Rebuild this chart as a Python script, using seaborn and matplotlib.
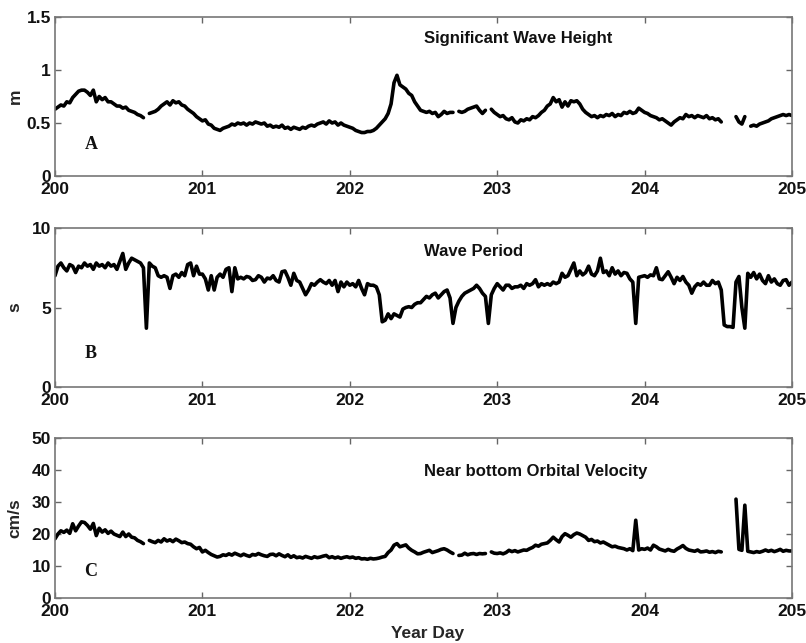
import numpy as np
import pandas as pd
import matplotlib
matplotlib.use("Agg")
import matplotlib.pyplot as plt
import seaborn as sns

nan = np.nan

# sampling grid (year day)
year_day = np.linspace(200, 205, 251)

# Significant wave height (m)
hs_m = [
    .63, .65, .67, .66, .70, .69, .74, .77, .80, .81, .81, .79, .76, .81, .70, .75, .72, .74, .70, .70,
    .68, .66, .66, .64, .65, .62, .61, .60, .58, .57, .55, nan, .59, .60, .61, .63, .66, .68, .70, .67,
    .71, .69, .70, .67, .66, .63, .61, .59, .56, .54,
    .52, .53, .49, .48, .45, .44, .43, .45, .46, .47, .49, .48, .50, .49, .50, .48, .50, .49, .51, .50,
    .49, .50, .47, .48, .46, .47, .46, .48, .45, .46, .44, .46, .45, .44, .46, .45, .47, .48, .47, .49,
    .50, .51, .49, .52, .50, .51, .48, .50, .48, .47,
    .46, .45, .43, .42, .41, .41, .42, .42, .43, .45, .48, .51, .54, .59, .68, .88, .95, .86, .84, .82,
    .78, .76, .70, .66, .62, .61, .60, .61, .59, .60, .56, .58, .61, .59, .60, .60, nan, .61, .60, .61,
    .63, .64, .65, .66, .62, .59, .62, nan, .63, .60,
    .58, .56, .57, .54, .53, .55, .51, .50, .53, .52, .54, .53, .56, .55, .57, .60, .62, .66, .68, .74,
    .70, .72, .65, .70, .66, .71, .70, .71, .68, .63, .60, .58, .56, .57, .55, .57, .56, .58, .57, .59,
    .56, .58, .57, .60, .59, .61, .59, .60, .64, .62,
    .60, .59, .57, .56, .55, .53, .54, .52, .50, .48, .51, .53, .55, .54, .58, .56, .57, .55, .57, .56,
    .55, .57, .54, .55, .53, .54, .51, nan, nan, nan, nan, .56, .51, .49, .56, nan, .47, .48, .47, .49,
    .50, .51, .52, .54, .55, .56, .57, .58, .57, .58, .57,
]

# Wave period (s)
period_s = [
    7.0, 7.6, 7.8, 7.5, 7.3, 7.7, 7.6, 7.2, 7.6, 7.5, 7.8, 7.6, 7.7, 7.4, 7.8, 7.6, 7.7, 7.5, 7.8, 7.6,
    7.7, 7.4, 7.9, 8.4, 7.4, 7.8, 8.1, 8.0, 7.9, 7.8, 7.5, 3.7, 7.8, 7.6, 7.5, 7.0, 6.9, 7.0, 6.9, 6.2,
    7.0, 7.1, 6.9, 7.2, 7.0, 7.7, 7.8, 7.0, 7.6, 7.1,
    7.1, 6.8, 6.1, 7.0, 6.1, 6.9, 7.1, 6.9, 7.4, 7.5, 6.0, 7.5, 6.8, 6.9, 6.8, 6.95, 6.9, 6.7, 6.75, 7.0,
    6.9, 6.6, 6.85, 6.8, 7.0, 6.7, 6.6, 7.25, 7.3, 6.9, 6.4, 7.15, 6.7, 6.6, 6.2, 5.8, 6.1, 6.5, 6.4, 6.6,
    6.75, 6.6, 6.5, 6.7, 6.4, 6.7, 6.0, 6.6, 6.3, 6.6,
    6.4, 6.5, 6.3, 6.7, 6.2, 5.8, 6.5, 6.4, 6.4, 6.3, 5.8, 4.1, 4.2, 4.6, 4.3, 4.6, 4.5, 4.4, 4.9, 5.0,
    5.05, 5.0, 5.2, 5.3, 5.3, 5.5, 5.7, 5.6, 5.8, 5.9, 5.6, 5.8, 6.0, 6.1, 5.6, 4.0, 5.0, 5.4, 5.7, 5.9,
    6.0, 6.1, 6.2, 6.4, 6.2, 5.9, 5.7, 4.0, 5.8, 6.2,
    6.5, 6.3, 6.1, 6.4, 6.4, 6.2, 6.3, 6.3, 6.4, 6.2, 6.5, 6.4, 6.5, 6.75, 6.3, 6.5, 6.4, 6.5, 6.4, 6.6,
    6.5, 6.6, 7.15, 6.9, 7.0, 7.4, 7.8, 7.0, 7.3, 7.05, 7.2, 7.6, 7.1, 7.0, 7.3, 8.1, 7.2, 7.3, 7.0, 7.5,
    7.1, 7.3, 7.0, 7.2, 7.15, 6.8, 6.6, 4.0, 6.9, 6.95,
    7.0, 6.9, 7.05, 7.0, 7.5, 6.8, 6.75, 7.0, 7.25, 6.9, 6.5, 6.9, 6.7, 6.95, 6.6, 6.4, 5.9, 6.3, 6.5, 6.4,
    6.6, 6.4, 6.4, 6.7, 6.5, 6.6, 6.1, 3.9, 3.8, 3.8, 3.75, 6.6, 6.95, 5.0, 3.7, 7.15, 6.9, 7.2, 6.8, 7.1,
    6.7, 6.5, 7.0, 6.6, 6.8, 6.5, 6.4, 6.7, 6.75, 6.4, 6.6,
]

# Near bottom orbital velocity (cm/s)
velocity_cms = [
    18.5, 20.0, 21.0, 20.5, 21.2, 20.2, 23.2, 21.0, 22.5, 23.8, 23.6, 22.7, 21.5, 23.3, 19.5, 21.8, 20.6, 21.3, 20.2, 20.9,
    20.0, 19.6, 19.2, 20.6, 19.2, 20.0, 19.0, 18.8, 18.0, 17.6, 17.0, nan, 18.0, 17.6, 17.3, 18.0, 17.5, 18.5, 17.8, 18.2,
    17.6, 18.4, 17.9, 17.3, 17.5, 17.0, 16.8, 16.0, 15.4, 15.8,
    14.4, 14.9, 14.2, 13.6, 13.2, 12.8, 13.0, 13.5, 13.3, 13.8, 13.4, 14.0, 13.6, 13.2, 13.7, 13.3, 13.0, 13.6, 13.4, 13.9,
    13.5, 13.2, 13.0, 13.6, 13.7, 13.2, 13.8, 13.3, 12.9, 13.5, 12.7, 13.2, 12.6, 12.8, 12.5, 13.0, 12.7, 12.4, 12.9, 12.6,
    12.8, 13.1, 13.3, 12.6, 12.9, 12.5, 12.8, 12.4, 12.7, 12.9,
    12.6, 12.8, 12.4, 12.6, 12.2, 12.3, 12.1, 12.4, 12.2, 12.3, 12.5, 12.8, 13.0, 14.2, 15.0, 16.5, 17.0, 16.0, 16.3, 16.6,
    15.6, 14.9, 14.4, 13.8, 13.9, 14.3, 14.6, 14.9, 14.2, 14.5, 14.8, 15.2, 15.4, 15.0, 14.4, 13.9, nan, 13.3, 13.4, 14.0,
    13.5, 13.8, 13.9, 13.6, 13.9, 13.8, 13.9, nan, 14.4, 14.0,
    13.9, 14.1, 13.8, 14.2, 14.9, 14.5, 14.8, 14.4, 14.7, 15.0, 14.9, 15.4, 15.8, 16.5, 16.2, 16.8, 17.0, 17.2, 18.0, 19.0,
    18.2, 17.5, 19.2, 20.1, 19.6, 19.0, 19.8, 20.3, 20.0, 19.5, 19.0, 18.0, 18.3, 17.6, 17.8, 17.2, 17.5, 17.0, 16.5, 16.0,
    16.2, 15.8, 15.6, 15.4, 15.0, 15.4, 14.8, 24.3, 15.0, 15.4,
    15.2, 15.6, 15.0, 16.5, 16.0, 15.3, 15.0, 14.7, 15.2, 14.8, 14.6, 15.3, 15.8, 16.4, 15.5, 15.0, 14.8, 14.6, 15.0, 14.4,
    14.5, 14.7, 14.3, 14.5, 14.2, 14.6, 14.4, nan, nan, nan, nan, 30.9, 15.2, 14.9, 29.0, 14.6, 14.4, 14.2, 14.5, 14.3,
    14.6, 15.0, 14.6, 14.9, 14.5, 14.8, 15.2, 14.6, 14.9, 14.7, 14.7,
]

x_ticks = [200, 201, 202, 203, 204, 205]
hs_ticks = [0, 0.5, 1, 1.5]
hs_ticklabels = ["0", "0.5", "1", "1.5"]
period_ticks = [0, 5, 10]
velocity_ticks = [0, 10, 20, 30, 40, 50]

sns.set_style("ticks")
plt.rcParams["font.family"] = ["Liberation Sans", "DejaVu Sans"]
plt.rcParams.update({
    "xtick.direction": "in", "ytick.direction": "in",
    "xtick.top": True, "ytick.right": True,
    "xtick.major.size": 4, "ytick.major.size": 4,
    "xtick.major.width": 1.0, "ytick.major.width": 1.0,
    "xtick.color": "#666666", "ytick.color": "#666666",
    "xtick.labelcolor": "#111111", "ytick.labelcolor": "#111111",
    "axes.edgecolor": "#777777", "axes.linewidth": 1.2,
    "xtick.major.pad": 4.5, "ytick.major.pad": 3,
})

fig = plt.figure(figsize=(8.06, 6.43), dpi=100)
L, W = 55 / 806, 737 / 806
axA = fig.add_axes([L, 1 - 176 / 643, W, 159 / 643])
axB = fig.add_axes([L, 1 - 387 / 643, W, 159 / 643])
axC = fig.add_axes([L, 1 - 598 / 643, W, 160 / 643])


def draw(ax, values):
    v = np.asarray(values, dtype=float)
    seg = np.cumsum(np.isnan(v))
    df = pd.DataFrame({"day": year_day, "val": v, "seg": seg}).dropna()
    sns.lineplot(data=df, x="day", y="val", units="seg", estimator=None,
                 color="black", linewidth=2.6, ax=ax, legend=False)


panels = [
    (axA, hs_m, (0, 1.5), hs_ticks, hs_ticklabels, "m", "Significant Wave Height", 1.30, "A", 0.30),
    (axB, period_s, (0, 10), period_ticks, [str(t) for t in period_ticks], "s", "Wave Period", 8.5, "B", 2.1),
    (axC, velocity_cms, (0, 50), velocity_ticks, [str(t) for t in velocity_ticks], "cm/s",
     "Near bottom Orbital Velocity", 39.4, "C", 8.2),
]

for ax, vals, ylim, yt, ytl, ylab, title, ty, letter, ly in panels:
    draw(ax, vals)
    ax.set_xlim(200, 205)
    ax.set_ylim(*ylim)
    ax.set_xticks(x_ticks)
    ax.set_xticklabels([str(t) for t in x_ticks], fontsize=12.5, fontweight="bold")
    ax.set_yticks(yt)
    ax.set_yticklabels(ytl, fontsize=12.5, fontweight="bold")
    ax.set_ylabel(ylab, fontsize=12.5, fontweight="bold")
    ax.yaxis.set_label_coords(-0.044, 0.5)
    ax.set_xlabel("")
    for s in ax.spines.values():
        s.set_visible(True)
    ax.text(202.5, ty, title, ha="left", va="center", fontsize=12, fontweight="bold", color="#111111")
    ax.text(200.2, ly, letter, ha="left", va="center", fontsize=13, fontweight="bold",
            family=["Liberation Serif", "DejaVu Serif"], color="#111111")

axC.set_xlabel("Year Day", fontsize=12.5, fontweight="bold")
axC.xaxis.set_label_coords(0.505, -0.175)

fig.savefig("out.png", dpi=100)
